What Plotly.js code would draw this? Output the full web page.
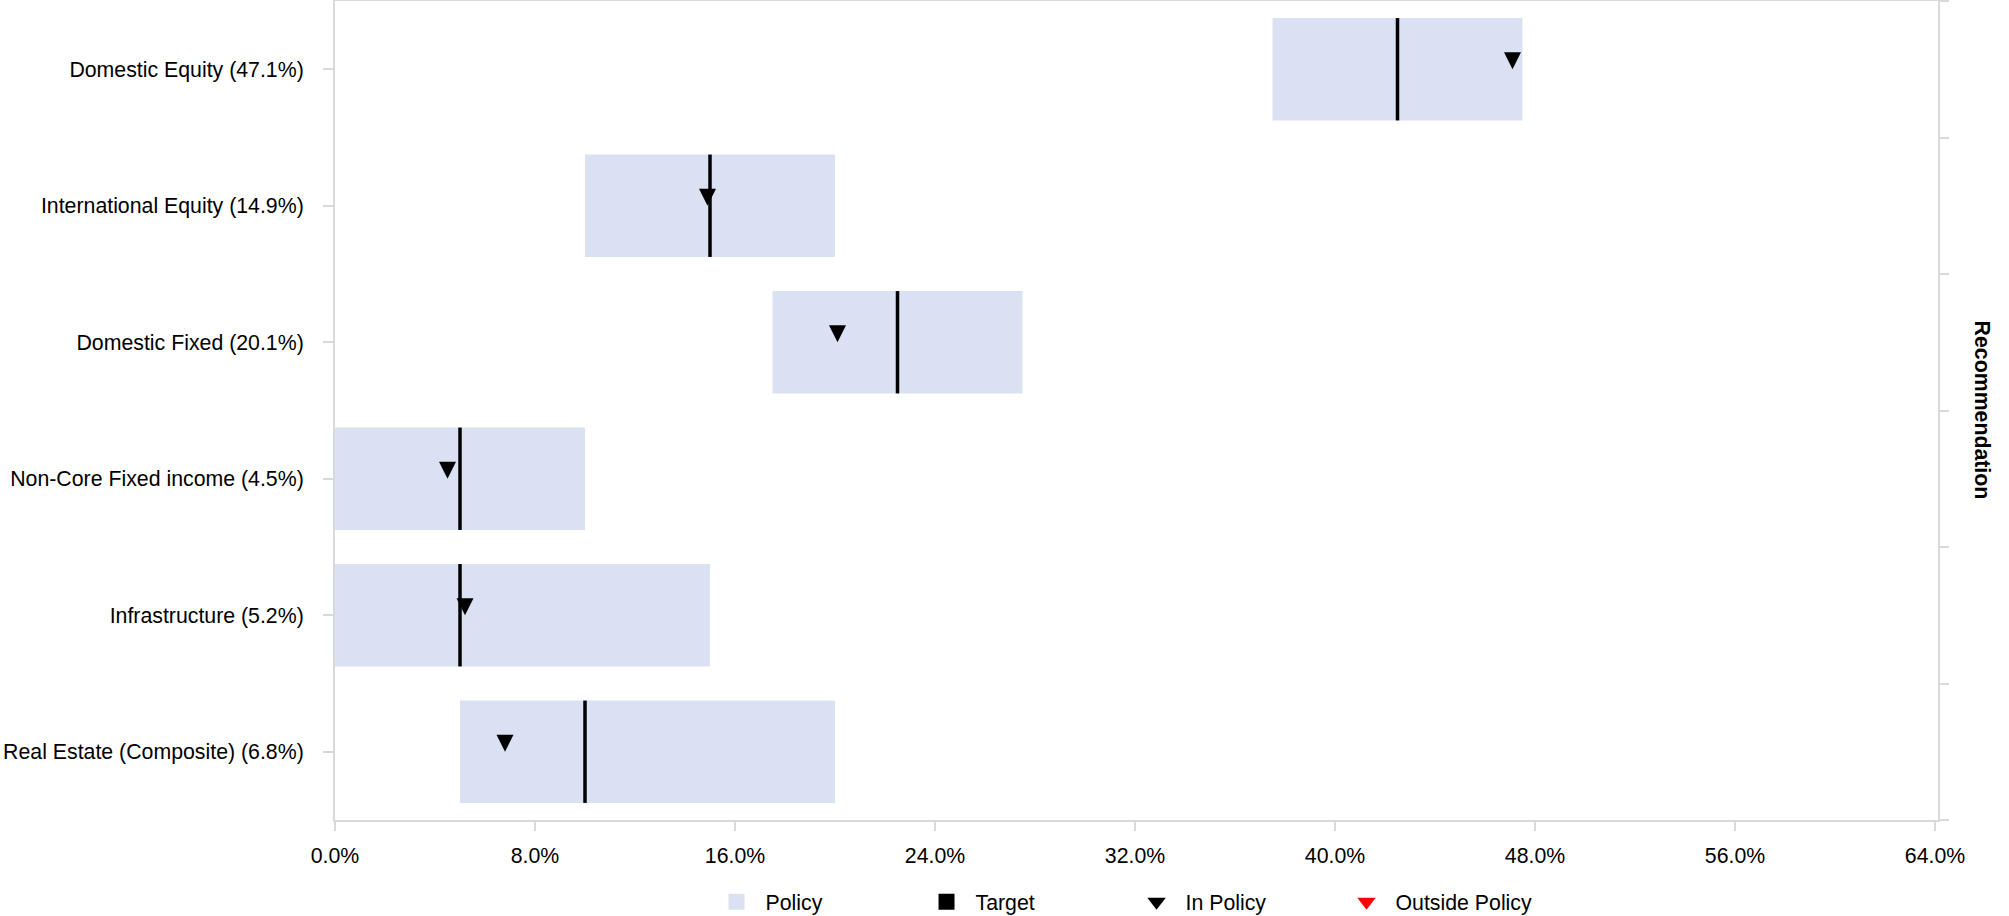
<!DOCTYPE html>
<html><head><meta charset="utf-8">
<script src="https://cdn.plot.ly/plotly-3.0.1.min.js"></script>
<style>html,body{margin:0;padding:0;background:#fff}#chart{width:2009px;height:916px}</style>
</head><body><div id="chart"></div>
<script>
const categories = ['Domestic Equity (47.1%)', 'International Equity (14.9%)', 'Domestic Fixed (20.1%)', 'Non-Core Fixed income (4.5%)', 'Infrastructure (5.2%)', 'Real Estate (Composite) (6.8%)'];
const policyMin = [37.5, 10, 17.5, 0, 0, 5];
const policyMax = [47.5, 20, 27.5, 10, 15, 20];
const target = [42.5, 15, 22.5, 5, 5, 10];
const actual = [47.1, 14.9, 20.1, 4.5, 5.2, 6.8];
const xTicks = [0, 8, 16, 24, 32, 40, 48, 56, 64];
const xTickLabels = ['0.0%', '8.0%', '16.0%', '24.0%', '32.0%', '40.0%', '48.0%', '56.0%', '64.0%'];

const FONT = 'Liberation Sans, Arial, sans-serif';
const FS = 21.3;
const GRAY = '#d9d9d9';
const POLICY_COLOR = '#d9e1f2';
const TW = 0.14; // target line thickness in axis units

const pos = categories.map((_, i) => i);
const inIdx = [], outIdx = [];
actual.forEach((v, i) => (v >= policyMin[i] && v <= policyMax[i] ? inIdx : outIdx).push(i));

const traces = [
  {
    type: 'bar', orientation: 'h', name: 'Policy', showlegend: false,
    y: pos, base: policyMin, x: policyMax.map((v, i) => v - policyMin[i]),
    width: 0.75, marker: {color: POLICY_COLOR}, hoverinfo: 'skip'
  },
  {
    type: 'bar', orientation: 'h', name: 'Target', showlegend: false,
    y: pos, base: target.map(v => v - TW / 2), x: target.map(() => TW),
    width: 0.75, marker: {color: '#000000'}, hoverinfo: 'skip'
  },
  {
    type: 'scatter', mode: 'markers', name: 'In Policy', showlegend: false, yaxis: 'y2',
    y: inIdx.map(i => pos[i]), x: inIdx.map(i => actual[i]),
    marker: {symbol: 'arrow-down', size: 17, color: '#000000'}
  },
  {
    type: 'scatter', mode: 'markers', name: 'Outside Policy', showlegend: false, yaxis: 'y2',
    y: outIdx.map(i => pos[i]), x: outIdx.map(i => actual[i]),
    marker: {symbol: 'arrow-down', size: 17, color: '#ff0000'}
  },
  // legend entries
  {type: 'scatter', mode: 'markers', name: 'Policy', x: [null], y: [null],
   marker: {symbol: 'square', size: 16, color: POLICY_COLOR}},
  {type: 'scatter', mode: 'markers', name: 'Target', x: [null], y: [null],
   marker: {symbol: 'square', size: 16, color: '#000000'}},
  {type: 'scatter', mode: 'markers', name: 'In Policy', x: [null], y: [null],
   marker: {symbol: 'triangle-down', size: 16, color: '#000000'}},
  {type: 'scatter', mode: 'markers', name: 'Outside Policy', x: [null], y: [null],
   marker: {symbol: 'triangle-down', size: 16, color: '#ff0000'}}
];

const boundaries = [];
for (let i = 0; i <= categories.length; i++) boundaries.push(i - 0.5);
const yRange = [categories.length - 0.5, -0.5];

const layout = {
  width: 2009, height: 916,
  margin: {l: 335, r: 71, t: 1, b: 96, autoexpand: false},
  paper_bgcolor: '#ffffff', plot_bgcolor: '#ffffff',
  font: {family: FONT, size: FS, color: '#000000'},
  barmode: 'overlay',
  showlegend: true,
  xaxis: {
    range: [0, 64.12], tickvals: xTicks, ticktext: xTickLabels,
    showline: true, linecolor: GRAY, linewidth: 2, mirror: true,
    ticks: 'outside', ticklen: 9, tickwidth: 2, tickcolor: GRAY,
    ticklabelstandoff: 6,
    showgrid: false, zeroline: false, fixedrange: true,
    tickfont: {family: FONT, size: FS, color: '#000000'}
  },
  yaxis: {
    range: yRange, tickvals: pos, ticktext: categories,
    showline: true, linecolor: GRAY, linewidth: 2, mirror: true,
    ticks: 'outside', ticklen: 10, tickwidth: 2, tickcolor: GRAY,
    ticklabelstandoff: 15,
    showgrid: false, zeroline: false, fixedrange: true,
    tickfont: {family: FONT, size: FS, color: '#000000'}
  },
  yaxis2: {
    overlaying: 'y', side: 'right', anchor: 'x',
    range: yRange, tickvals: boundaries,
    showticklabels: false, ticks: 'outside', ticklen: 10, tickwidth: 2, tickcolor: GRAY,
    showline: false, showgrid: false, zeroline: false, fixedrange: true
  },
  legend: {
    orientation: 'h', x: 0.4944, xanchor: 'center', y: -0.1, yanchor: 'middle',
    font: {family: FONT, size: FS, color: '#000000'},
    itemwidth: 48,
    entrywidth: 147, entrywidthmode: 'pixels', traceorder: 'normal'
  },
  annotations: [{
    text: '<b>Recommendation</b>', xref: 'paper', yref: 'paper', x: 1.028, y: 0.5,
    xanchor: 'center', yanchor: 'middle', textangle: 90, showarrow: false,
    font: {family: FONT, size: FS, color: '#000000'}
  }]
};

Plotly.newPlot('chart', traces, layout, {displayModeBar: false, staticPlot: true});
</script>
</body></html>
